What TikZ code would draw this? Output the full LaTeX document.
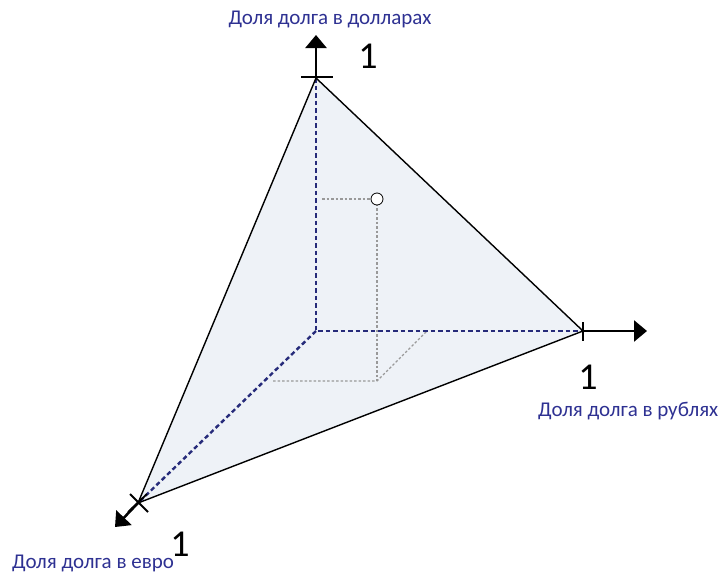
\documentclass[tikz,border=0pt]{standalone}
\usepackage{fontspec}
\setmainfont{Carlito}
\usetikzlibrary{arrows.meta}
\definecolor{lbl}{HTML}{2E3192}
\definecolor{navyline}{HTML}{262B7A}
\definecolor{face}{HTML}{EEF2F7}
\begin{document}
\begin{tikzpicture}[x=1pt,y=-1pt,
  axis/.style={line width=2.5pt,-{Triangle[length=13pt,width=21pt]}},
  tickmark/.style={line width=1.8pt},
  edge/.style={line width=1.4pt},
  hidden/.style={navyline,line width=2.4pt,dash pattern=on 4.5pt off 3pt},
  guide/.style={gray!80,line width=1.1pt,dash pattern=on 2.5pt off 2pt},
  lab/.style={text=lbl,font=\fontsize{21}{24}\selectfont,inner sep=0pt},
  one/.style={font=\fontsize{38}{40}\selectfont}]
\useasboundingbox (0,0) rectangle (720,573);
\coordinate (O) at (316,331);
\coordinate (Y) at (316,78);
\coordinate (R) at (583,331);
\coordinate (E) at (138,503);
\coordinate (Yend) at (316,35);
\coordinate (Rend) at (647,331);
\coordinate (Eend) at (115,527);
\coordinate (P) at (377,199);
\coordinate (Pb) at (377,381);
\coordinate (Pl) at (322,199);
\coordinate (Pe) at (273,381);
\coordinate (Pr) at (427,331);
\fill[face] (Y) -- (R) -- (E) -- cycle;
\draw[guide] (Pl) -- (P);
\draw[guide] (P) -- (Pb);
\draw[guide] (Pe) -- (Pb) -- (Pr);
\draw[hidden] (Y) -- (O) -- (R);
\draw[hidden] (O) -- (E);
\draw[edge] (Y) -- (R) -- (E) -- cycle;
\node[draw,circle,fill=white,inner sep=0pt,minimum size=12pt,line width=0.8pt] (pt) at (P) {};
\draw[axis] (Y) -- (Yend);
\draw[axis] (R) -- (Rend);
\draw[axis] (E) -- (Eend);
\draw[tickmark] (301,77) -- (333,77);
\draw[tickmark] (583,322) -- (583,341);
\draw[tickmark] (130,494) -- (148,512);
\draw[tickmark] (128,512) -- (147,494);
\node[one] (o1) at (368,56) {1};
\node[one] (o2) at (588,377) {1};
\node[one] (o3) at (180,544) {1};
\node[lab,anchor=base] (l1) at (330,24) {Доля долга в долларах};
\node[lab,anchor=base west] (l2) at (538,416) {Доля долга в рублях};
\node[lab,anchor=base west] (l3) at (12,568) {Доля долга в евро};
\end{tikzpicture}
\end{document}
